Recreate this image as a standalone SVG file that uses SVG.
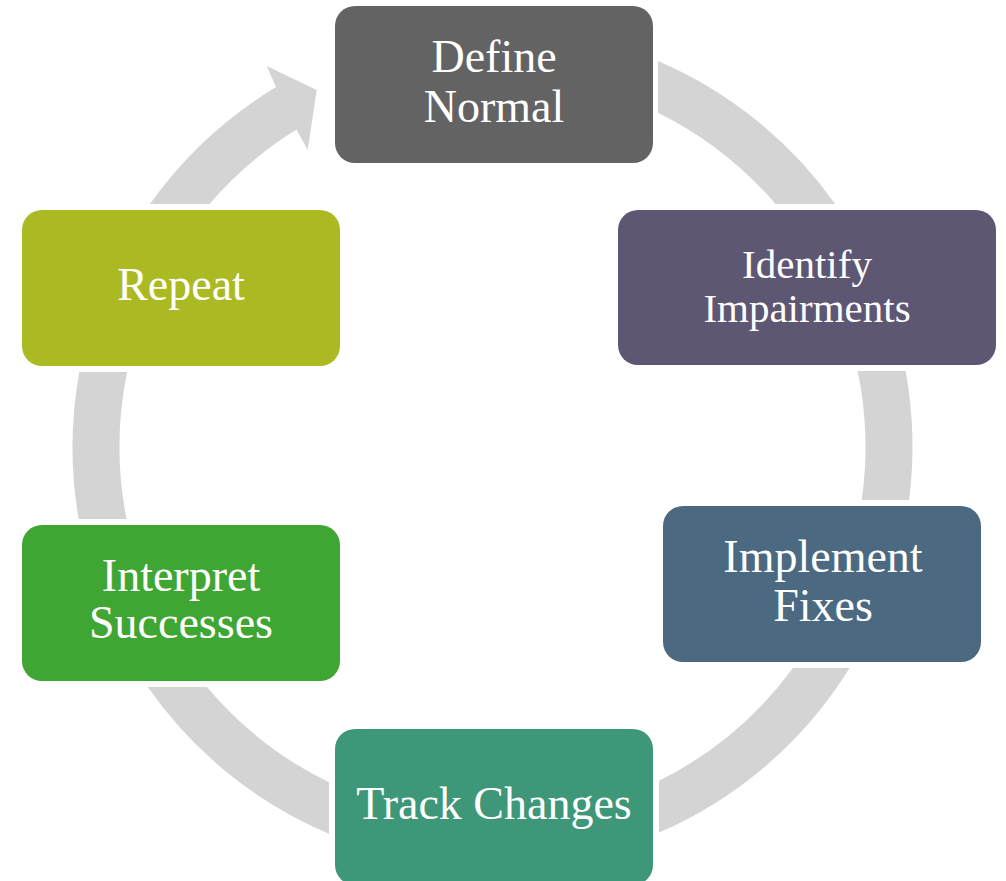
<svg xmlns="http://www.w3.org/2000/svg" width="1006" height="881" viewBox="0 0 1006 881">
<style>
.seg{fill:#d4d4d4;stroke:none}
.box{stroke:none}
.t{font-family:"Liberation Serif","Times New Roman",serif;fill:#ffffff;text-anchor:middle;font-size:46px}
</style>
<rect width="1006" height="881" fill="#ffffff"/>
<g id="connectors">
<path class="seg" d="M658,61 A420,420 0 0 1 835.1,204 L775.5,204 A373,373 0 0 0 658,112.7 Z"/>
<path class="seg" d="M905.6,371 A420,420 0 0 1 909.1,500 L861.7,500 A373,373 0 0 0 857.7,371 Z"/>
<path class="seg" d="M849.6,668 A420,420 0 0 1 659,832.6 L659,780.8 A373,373 0 0 0 793,668 Z"/>
<path class="seg" d="M329,833.8 A420,420 0 0 1 147.8,687 L207,687 A373,373 0 0 0 329,782.3 Z"/>
<path class="seg" d="M78.7,519 A420,420 0 0 1 79.3,372 L127.1,372 A373,373 0 0 0 126.5,519 Z"/>
<path class="seg" d="M149.9,204 A420,420 0 0 1 276,87.1 L266.7,66 L316.7,90 L307.7,150 L296.5,129.6 A373,373 0 0 0 209.5,204 Z"/>
</g>
<g id="define-normal">
<rect class="box" x="335" y="6" width="318" height="157" rx="20" fill="#636363"/>
<text class="t" x="494" y="72">Define</text>
<text class="t" x="494" y="122">Normal</text>
</g>
<g id="identify-impairments">
<rect class="box" x="618" y="210" width="378" height="155" rx="20" fill="#5e5773"/>
<text class="t" x="807" y="278" style="font-size:41px">Identify</text>
<text class="t" x="807" y="322" style="font-size:41px">Impairments</text>
</g>
<g id="implement-fixes">
<rect class="box" x="663" y="506" width="318" height="156" rx="20" fill="#4b6a82"/>
<text class="t" x="823" y="572">Implement</text>
<text class="t" x="823" y="621">Fixes</text>
</g>
<g id="track-changes">
<rect class="box" x="335" y="729" width="318" height="156" rx="20" fill="#3d9778"/>
<text class="t" x="494" y="819">Track Changes</text>
</g>
<g id="interpret-successes">
<rect class="box" x="22" y="525" width="318" height="156" rx="20" fill="#3fa634"/>
<text class="t" x="181" y="591">Interpret</text>
<text class="t" x="181" y="638">Successes</text>
</g>
<g id="repeat">
<rect class="box" x="22" y="210" width="318" height="156" rx="20" fill="#abb923"/>
<text class="t" x="181" y="300">Repeat</text>
</g>
</svg>
